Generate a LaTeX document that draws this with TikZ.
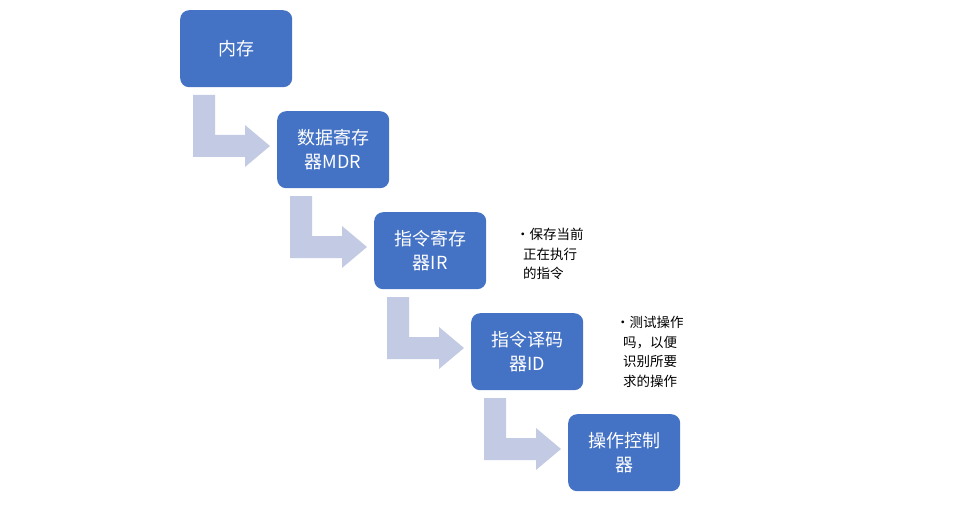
\documentclass[tikz,border=0pt]{standalone}
\usepackage{fontspec}
\setmainfont{Noto Sans CJK SC}
\begin{document}
\begin{tikzpicture}[x=1pt,y=-1pt,
 box/.style={draw=none,fill=boxblue,rounded corners=9pt,minimum width=112pt,minimum height=77pt,text=white,align=center,font=\fontsize{18}{24}\selectfont,anchor=north west},
 note/.style={align=left,anchor=north west,font=\fontsize{13.5}{19.5}\selectfont,inner sep=0pt},
 barrow/.style={fill=arrowgrey,draw=none}]
\definecolor{boxblue}{HTML}{4472C4}
\definecolor{arrowgrey}{HTML}{C3CAE3}
\useasboundingbox (0,0) rectangle (972,508);
\node[box] (b1) at (180,10) {内存};
\node[box] (b2) at (277,111) {数据寄存\\器MDR};
\node[box] (b3) at (374,212) {指令寄存\\器IR};
\node[box] (b4) at (471,313) {指令译码\\器ID};
\node[box] (b5) at (568,414) {操作控制\\器};
\foreach \k in {0,1,2,3}{
 \fill[barrow,shift={(97*\k,101*\k)}] (193,95) -- (215,95) -- (215,135) -- (245,135) -- (245,125) -- (270,146) -- (245,167) -- (245,157) -- (193,157) -- cycle;
}
\node[note] (n1) at (516,228) {•保存当前\\\hspace*{7pt}正在执行\\\hspace*{7pt}的指令};
\node[note] (n2) at (616,316) {•测试操作\\\hspace*{7pt}吗，以便\\\hspace*{7pt}识别所要\\\hspace*{7pt}求的操作};
\end{tikzpicture}
\end{document}
